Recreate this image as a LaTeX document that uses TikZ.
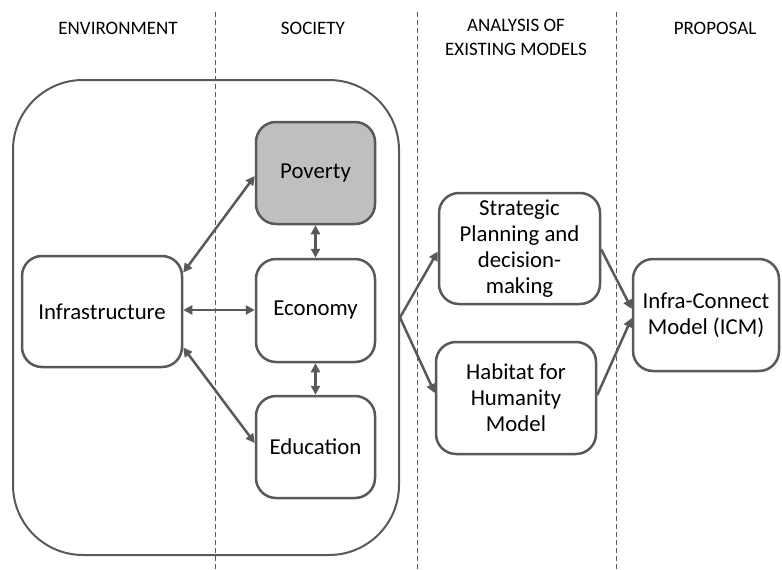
\documentclass[tikz,border=0pt]{standalone}
\usepackage{fontspec}
\setmainfont{Carlito}
\usetikzlibrary{arrows.meta}
\definecolor{lc}{HTML}{595959}
\definecolor{pov}{HTML}{BFBFBF}
\begin{document}
\begin{tikzpicture}[x=1pt,y=-1pt,
  box/.style={draw=lc, line width=2.5pt, rounded corners=20pt, align=center,
    inner sep=0pt, font=\fontsize{22.8}{26}\selectfont, text=black},
  hdr/.style={align=center, font=\fontsize{19}{24}\selectfont, text=black},
  sep/.style={draw=lc, line width=0.9pt, dash pattern=on 5pt off 3pt},
  conn/.style={draw=lc, line width=2.5pt, {Triangle[length=9pt,width=9pt]}-{Triangle[length=9pt,width=9pt]}},
  onearr/.style={draw=lc, line width=2.5pt, -{Triangle[length=9pt,width=9pt]}}]
\useasboundingbox (0,0) rectangle (782,570);
% headers
\node[hdr] (h1) at (118,28) {ENVIRONMENT};
\node[hdr] (h2) at (313,28) {SOCIETY};
\node[hdr, anchor=north] (h3) at (516,16) {ANALYSIS OF\\EXISTING MODELS};
\node[hdr] (h4) at (715,28) {PROPOSAL};
% separators
\coordinate (s1t) at (215,12); \coordinate (s1b) at (215,570);
\coordinate (s2t) at (417,12); \coordinate (s2b) at (417,570);
\coordinate (s3t) at (616,12); \coordinate (s3b) at (616,570);
\draw[sep] (s1t) -- (s1b);
\draw[sep] (s2t) -- (s2b);
\draw[sep] (s3t) -- (s3b);
% environment container
\node[draw=lc, line width=2pt, rounded corners=70pt, minimum width=386pt, minimum height=475pt, inner sep=0pt] (env) at (206,317.5) {};
% boxes
\node[box, fill=pov, minimum width=119pt, minimum height=102pt] (pov) at (315.5,173) {Poverty};
\node[box, fill=white, minimum width=119pt, minimum height=103pt] (eco) at (315.5,310.5) {Economy};
\node[box, fill=white, minimum width=119pt, minimum height=102pt] (edu) at (315.5,447) {Education};
\node[box, fill=white, minimum width=160pt, minimum height=111pt] (inf) at (102,311.5) {Infrastructure};
\node[box, fill=white, minimum width=161pt, minimum height=111pt] (str) at (519.5,248.5) {Strategic\\Planning and\\decision-\\making};
\node[box, fill=white, minimum width=160pt, minimum height=112pt] (hab) at (516,398) {Habitat for\\Humanity\\Model};
\node[box, fill=white, minimum width=146pt, minimum height=112pt] (icm) at (706,315) {Infra-Connect\\Model (ICM)};
% connectors
\draw[conn] ([yshift=39pt]inf.east) -- ([yshift=-3pt]pov.west);
\draw[conn] ([yshift=1.5pt]inf.east) -- ([yshift=0.5pt]eco.west);
\draw[conn] ([yshift=-36pt]inf.east) -- ([yshift=4pt]edu.west);
\draw[conn] (pov.south) -- (eco.north);
\draw[conn] (eco.south) -- (edu.north);
\coordinate (br) at (env.east);
\draw[onearr] (br) -- ([yshift=-3pt]str.west);
\draw[onearr] (br) -- ([yshift=5pt]hab.west);
\draw[onearr] ([yshift=-1pt]str.east) -- ([yshift=6pt]icm.west);
\draw[onearr] ([yshift=3pt]hab.east) -- ([yshift=-3pt]icm.west);
\end{tikzpicture}
\end{document}
